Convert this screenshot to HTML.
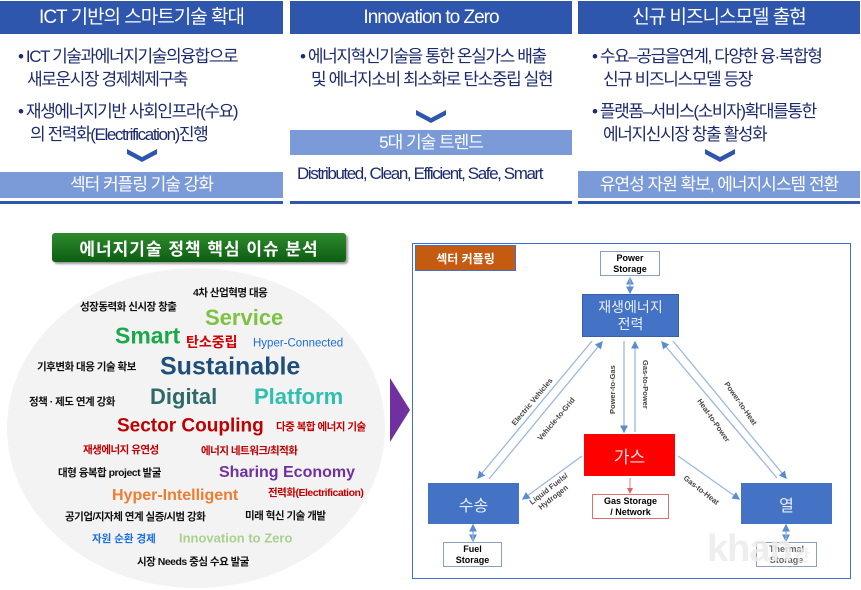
<!DOCTYPE html>
<html><head><meta charset="utf-8"><style>
*{margin:0;padding:0;box-sizing:border-box}
body{width:861px;height:590px;background:#fff;position:relative;overflow:hidden;font-family:"Liberation Sans","Noto Sans CJK KR",sans-serif}
.a{position:absolute;white-space:nowrap}
.hd{position:absolute;top:1px;height:33px;background:#2f56ad;color:#fff;font-size:19px;line-height:33px;text-align:center;letter-spacing:-1px}
.lb{position:absolute;background:#7b9ad8;color:#fff;font-size:17px;text-align:center;letter-spacing:-1px}
.ln{position:absolute;top:201px;height:3px;background:#2f56ad}
.t{position:absolute;white-space:nowrap;color:#1c2a6e;font-size:17px;letter-spacing:-1.4px;line-height:23px}
.w{position:absolute;white-space:nowrap;font-weight:bold;line-height:1;transform:translateY(-50%)}
.k{font-size:10.5px;color:#111;letter-spacing:-0.5px}
.r{font-size:10.5px;color:#c00000;letter-spacing:-0.5px}
.bx{position:absolute;display:flex;align-items:center;justify-content:center;text-align:center}
</style></head><body>
<div class="hd" style="left:0;width:283px">ICT 기반의 스마트기술 확대</div>
<div class="hd" style="left:290px;width:282px">Innovation to Zero</div>
<div class="hd" style="left:578px;width:282px">신규 비즈니스모델 출현</div>

<div class="t" style="left:18px;top:45px">• ICT 기술과에너지기술의융합으로</div>
<div class="t" style="left:27px;top:68px">새로운시장 경제체제구축</div>
<div class="t" style="left:18px;top:100px">• 재생에너지기반 사회인프라(수요)</div>
<div class="t" style="left:30px;top:123px">의 전력화(Electrification)진행</div>
<svg class="a" style="left:127px;top:149px" width="30" height="14"><path d="M0 0 L15 8 L30 0 L30 5 L15 13 L0 5Z" fill="#2f56ad"/></svg>
<div class="lb" style="left:0;top:172px;width:283px;height:26px;line-height:26px">섹터 커플링 기술 강화</div>

<div class="t" style="left:300px;top:45px">• 에너지혁신기술을 통한 온실가스 배출</div>
<div class="t" style="left:311px;top:68px">및 에너지소비 최소화로 탄소중립 실현</div>
<svg class="a" style="left:416px;top:110px" width="30" height="14"><path d="M0 0 L15 8 L30 0 L30 5 L15 13 L0 5Z" fill="#2f56ad"/></svg>
<div class="lb" style="left:290px;top:130px;width:282px;height:25px;line-height:25px">5대 기술 트렌드</div>
<div class="t" style="left:297px;top:162px">Distributed, Clean, Efficient, Safe, Smart</div>

<div class="t" style="left:592px;top:45px">• 수요–공급을연계, 다양한 융·복합형</div>
<div class="t" style="left:603px;top:68px">신규 비즈니스모델 등장</div>
<div class="t" style="left:592px;top:100px">• 플랫폼–서비스(소비자)확대를통한</div>
<div class="t" style="left:603px;top:123px">에너지신시장 창출 활성화</div>
<svg class="a" style="left:705px;top:149px" width="30" height="14"><path d="M0 0 L15 8 L30 0 L30 5 L15 13 L0 5Z" fill="#2f56ad"/></svg>
<div class="lb" style="left:578px;top:171px;width:282px;height:27px;line-height:27px">유연성 자원 확보, 에너지시스템 전환</div>

<div class="ln" style="left:0;width:283px"></div>
<div class="ln" style="left:290px;width:282px"></div>
<div class="ln" style="left:578px;width:282px"></div>

<div class="a" style="left:7px;top:268px;width:378px;height:320px;border-radius:50%;background:radial-gradient(ellipse at center,#f3f3f3 70%,#e8e8e8 100%)"></div>
<div class="bx" style="left:52px;top:233px;width:294px;height:29px;background:linear-gradient(#2f8a2f,#0d5e12);border-radius:3px;color:#fff;font-size:17px;font-weight:bold;letter-spacing:1px;box-shadow:2px 2px 2px #999">에너지기술 정책 핵심 이슈 분석</div>
<svg class="a" style="left:390px;top:378px" width="22" height="64"><path d="M0 0 L20 32 L0 64Z" fill="#7030a0"/></svg>

<div class="w k" style="left:193px;top:293px">4차 산업혁명 대응</div>
<div class="w k" style="left:80px;top:307px">성장동력화 신시장 창출</div>
<div class="w" style="left:205px;top:318px;font-size:22px;color:#7dc242">Service</div>
<div class="w" style="left:115px;top:336px;font-size:23px;color:#1aa84b">Smart</div>
<div class="w" style="left:186px;top:342px;font-size:14px;color:#d00000">탄소중립</div>
<div class="w" style="left:253px;top:344px;font-size:11.5px;color:#1a6fe0;font-weight:normal">Hyper-Connected</div>
<div class="w k" style="left:37px;top:367px">기후변화 대응 기술 확보</div>
<div class="w" style="left:160px;top:367px;font-size:25px;color:#1f4e79">Sustainable</div>
<div class="w k" style="left:29px;top:402px">정책 · 제도 연계 강화</div>
<div class="w" style="left:150px;top:397px;font-size:22px;color:#2e6b68">Digital</div>
<div class="w" style="left:254px;top:397px;font-size:22px;color:#2ebfb0">Platform</div>
<div class="w" style="left:117px;top:426px;font-size:19px;color:#c00000">Sector Coupling</div>
<div class="w r" style="left:276px;top:427px">다중 복합 에너지 기술</div>
<div class="w r" style="left:83px;top:450px">재생에너지 유연성</div>
<div class="w r" style="left:201px;top:451px">에너지 네트워크/최적화</div>
<div class="w k" style="left:58px;top:473px">대형 융복합 project 발굴</div>
<div class="w" style="left:219px;top:473px;font-size:16px;color:#7030a0">Sharing Economy</div>
<div class="w" style="left:112px;top:496px;font-size:16px;color:#ed7d31">Hyper-Intelligent</div>
<div class="w r" style="left:268px;top:493px">전력화(Electrification)</div>
<div class="w k" style="left:65px;top:517px">공기업/지자체 연계 실증/시범 강화</div>
<div class="w k" style="left:245px;top:516px">미래 혁신 기술 개발</div>
<div class="w" style="left:92px;top:539px;font-size:10.5px;color:#1a6fe0">자원 순환 경제</div>
<div class="w" style="left:179px;top:538px;font-size:13px;color:#a9d18e">Innovation to Zero</div>
<div class="w k" style="left:137px;top:562px">시장 Needs 중심 수요 발굴</div>

<div class="a" style="left:412px;top:243px;width:439px;height:336px;border:1.5px solid #3f6fd0;background:#fff"></div>
<div class="bx" style="left:415px;top:245px;width:101px;height:26px;background:#c55a11;border:1px solid #3f6fd0;color:#fff;font-size:12px;font-weight:bold">섹터 커플링</div>
<svg class="a" style="left:412px;top:243px" width="439" height="336" viewBox="412 243 439 336">
<defs><marker id="m" markerWidth="6" markerHeight="6" refX="5" refY="3" orient="auto"><path d="M0 0L6 3L0 6Z" fill="#5b8bd0"/></marker>
<marker id="mr" markerWidth="6" markerHeight="6" refX="5" refY="3" orient="auto"><path d="M0 0L6 3L0 6Z" fill="#e06060"/></marker></defs>
<g stroke="#9bb8e0" stroke-width="1.3" fill="none">
<line x1="592" y1="341" x2="478" y2="478" marker-end="url(#m)"/>
<line x1="489" y1="479" x2="602" y2="342" marker-end="url(#m)"/>
<line x1="624" y1="341" x2="624" y2="432" marker-end="url(#m)"/>
<line x1="635" y1="432" x2="635" y2="342" marker-end="url(#m)"/>
<line x1="777" y1="478" x2="662" y2="342" marker-end="url(#m)"/>
<line x1="673" y1="341" x2="786" y2="478" marker-end="url(#m)"/>
<line x1="582" y1="456" x2="523" y2="499" marker-end="url(#m)"/>
<line x1="678" y1="456" x2="739" y2="499" marker-end="url(#m)"/>
<line x1="630" y1="293" x2="630" y2="278" marker-end="url(#m)"/>
<line x1="630" y1="278" x2="630" y2="293" marker-end="url(#m)"/>
<line x1="473" y1="525" x2="473" y2="541" marker-end="url(#m)"/>
<line x1="473" y1="541" x2="473" y2="525" marker-end="url(#m)"/>
<line x1="786" y1="525" x2="786" y2="541" marker-end="url(#m)"/>
<line x1="786" y1="541" x2="786" y2="525" marker-end="url(#m)"/>
</g>
<line x1="630" y1="478" x2="630" y2="493" stroke="#e08080" marker-end="url(#mr)"/>
<g font-family="Liberation Sans,sans-serif" font-size="7.5" font-weight="bold" fill="#444">
<text transform="translate(515,426) rotate(-50)">Electric Vehicles</text>
<text transform="translate(541,441) rotate(-50)">Vehicle-to-Grid</text>
<text transform="translate(615,414) rotate(-90)">Power-to-Gas</text>
<text transform="translate(643,360) rotate(90)">Gas-to-Power</text>
<text transform="translate(697,401) rotate(55)">Heat-to-Power</text>
<text transform="translate(724,384) rotate(55)">Power-to-Heat</text>
<text transform="translate(532,505) rotate(-38)">Liquid Fuels/</text>
<text transform="translate(541,510) rotate(-38)">Hydrogen</text>
<text transform="translate(683,479) rotate(38)">Gas-to-Heat</text>
</g>
</svg>
<div class="bx" style="left:600px;top:251px;width:60px;height:25px;border:1.5px solid #8aa0c0;font-size:9px;font-weight:bold;line-height:11px;background:#fff">Power<br>Storage</div>
<div class="bx" style="left:582px;top:294px;width:97px;height:43px;background:#4472c4;border:1px solid #3a5fa8;color:#e8eef8;font-size:14px;line-height:17px">재생에너지<br>전력</div>
<div class="bx" style="left:584px;top:434px;width:91px;height:42px;background:#ff0000;color:#ffe0e0;font-size:17px">가스</div>
<div class="bx" style="left:592px;top:494px;width:77px;height:25px;border:1.5px solid #e07070;font-size:9px;font-weight:bold;line-height:11px;background:#fff">Gas Storage<br>/ Network</div>
<div class="bx" style="left:428px;top:483px;width:91px;height:41px;background:#4472c4;color:#e8eef8;font-size:16px">수송</div>
<div class="bx" style="left:741px;top:483px;width:91px;height:41px;background:#4472c4;color:#e8eef8;font-size:16px">열</div>
<div class="bx" style="left:443px;top:542px;width:59px;height:25px;border:1.5px solid #8aa0c0;font-size:9px;font-weight:bold;line-height:11px;background:#fff">Fuel<br>Storage</div>
<div class="bx" style="left:756px;top:542px;width:61px;height:25px;border:1.5px solid #8aa0c0;font-size:9px;font-weight:bold;line-height:11px;background:#fff;color:#666">Thermal<br>Storage</div>
<div class="a" style="left:707px;top:528px;font-size:38px;color:rgba(235,235,235,0.85);font-weight:bold;letter-spacing:-1px">khan<span style="font-size:16px"> 칸</span></div>
</body></html>
